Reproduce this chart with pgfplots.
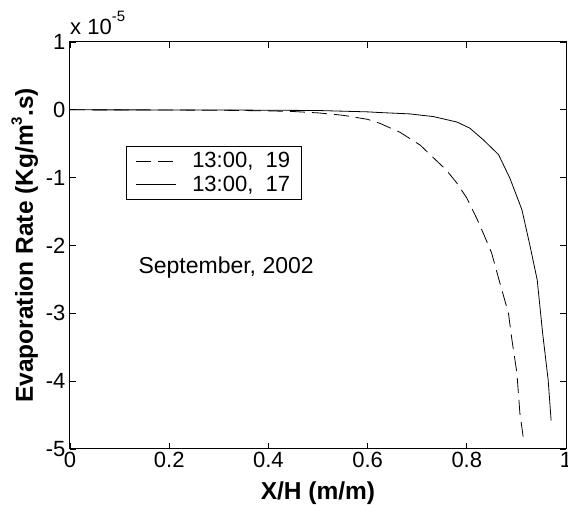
\documentclass[border=0pt]{standalone}
\usepackage{pgfplots}
\pgfplotsset{compat=1.18}
\usepackage{fontspec}
\setmainfont{Liberation Sans}
\begin{document}
\begin{tikzpicture}
\begin{axis}[
  name=ax,
  width=496pt, height=407pt, scale only axis,
  xmin=0, xmax=1, ymin=-5, ymax=1,
  clip=false,
  xtick={0,0.2,0.4,0.6,0.8,1}, xticklabels={0,0.2,0.4,0.6,0.8,1},
  ytick={-5,-4,-3,-2,-1,0,1}, yticklabels={-5,-4,-3,-2,-1,0,1},
  tick align=inside, major tick length=6pt,
  tick style={black, line width=0.8pt},
  axis line style={line width=1pt},
  ticklabel style={font=\fontsize{22}{25}\selectfont},
  xticklabel style={yshift=0pt},
  yticklabel style={xshift=-1pt},
  xlabel={X/H (m/m)},
  ylabel={Evaporation Rate (Kg/m\raisebox{0.45em}{\fontsize{15}{15}\selectfont 3}.s)},
  label style={font=\fontsize{24.5}{28}\selectfont\bfseries},
  xlabel style={at={([yshift=-51pt]rel axis cs:0.5,0)}, anchor=base},
  ylabel style={at={([xshift=-37pt]rel axis cs:0,0.5)}, anchor=base, rotate=0},
  legend style={at={(0.113,0.744)}, anchor=north west, draw=black, line width=0.8pt,
    font=\fontsize{22}{25}\selectfont, inner xsep=9pt, inner ysep=4pt,
    nodes={inner sep=2pt}, column sep=14pt, row sep=3pt, cells={anchor=west}},
  legend cell align=left,
  legend image code/.code={\draw[#1] (0pt,0pt) -- (40pt,0pt);},
]
\addplot[black, line width=0.8pt, dash pattern=on 15pt off 7pt] coordinates {
(0,0) (0.1,-0.001) (0.2,-0.003) (0.3,-0.006) (0.4,-0.015) (0.45,-0.025)
(0.5,-0.045) (0.55,-0.08) (0.6,-0.14) (0.625,-0.20) (0.665,-0.33)
(0.706,-0.52) (0.726,-0.66) (0.759,-0.89) (0.78,-1.08) (0.80,-1.30)
(0.82,-1.60) (0.835,-1.85) (0.85,-2.11) (0.867,-2.56) (0.884,-3.00)
(0.891,-3.39) (0.901,-3.88) (0.907,-4.47) (0.914,-4.84)
};
\addlegendentry{13:00,\ \ 19}
\addplot[black, line width=0.8pt] coordinates {
(0,0) (0.3,-0.002) (0.5,-0.01) (0.6,-0.03) (0.625,-0.04) (0.685,-0.06)
(0.733,-0.10) (0.78,-0.18) (0.806,-0.27) (0.833,-0.44) (0.864,-0.66)
(0.887,-1.01) (0.911,-1.47) (0.927,-1.99) (0.942,-2.51) (0.953,-3.30)
(0.964,-3.98) (0.970,-4.58)
};
\addlegendentry{13:00,\ \ 17}
\node[anchor=west, font=\fontsize{23}{26}\selectfont] at (axis cs:0.131,-2.33) {September, 2002};
\node[anchor=base west, font=\fontsize{22}{25}\selectfont, inner sep=0pt] at ([yshift=7pt]rel axis cs:0,1) {x 10\raisebox{0.6em}{\fontsize{15}{15}\selectfont -5}};
\end{axis}
\pgfresetboundingbox
\useasboundingbox ([shift={(-70pt,-56pt)}]ax.south west) rectangle ([shift={(498pt,449pt)}]ax.south west);
\end{tikzpicture}
\end{document}
